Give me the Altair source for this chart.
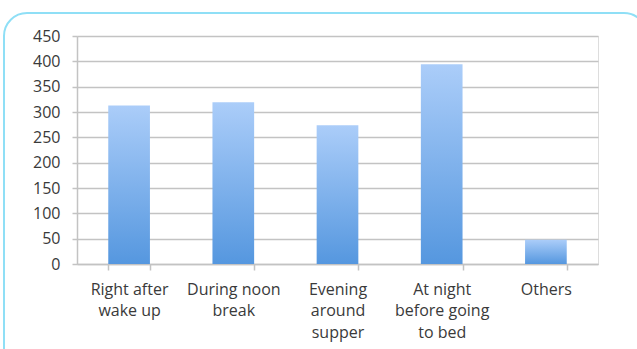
import altair as alt
import pandas as pd

# Survey: when people do the activity during the day
categories = [
    "Right after\nwake up",
    "During noon\nbreak",
    "Evening\naround\nsupper",
    "At night\nbefore going\nto bed",
    "Others",
]
counts = [313, 319, 274, 394, 48]
y_ticks = [0, 50, 100, 150, 200, 250, 300, 350, 400, 450]

df = pd.DataFrame({"when": categories, "count": counts})

FONT = "Open Sans"
GRID = "#c3c3c3"
TEXT = "#3a3a3a"

bar_fill = alt.Gradient(
    gradient="linear",
    stops=[
        alt.GradientStop(color="#abcdf9", offset=0),
        alt.GradientStop(color="#5597df", offset=1),
    ],
    x1=0, x2=0, y1=0, y2=1,
)

bars = alt.Chart(df).mark_bar(color=bar_fill).encode(
    x=alt.X(
        "when:N",
        sort=categories,
        title=None,
        scale=alt.Scale(paddingInner=0.6, paddingOuter=0.3),
        axis=alt.Axis(
            labelAngle=0,
            labelExpr="split(datum.label, '\\n')",
            labelFont=FONT,
            labelFontSize=16,
            labelColor=TEXT,
            labelLineHeight=21.5,
            labelPadding=11,
            labelBaseline="top",
            tickBand="extent",
            tickSize=6,
            tickColor=GRID,
            tickWidth=1.5,
            domainColor=GRID,
            domainWidth=1.5,
            grid=False,
        ),
    ),
    y=alt.Y(
        "count:Q",
        title=None,
        scale=alt.Scale(domain=[0, 450], nice=False),
        axis=alt.Axis(
            values=y_ticks,
            labelFont=FONT,
            labelFontSize=16,
            labelColor=TEXT,
            labelPadding=12,
            tickSize=5,
            tickColor=GRID,
            tickWidth=1.5,
            domainColor=GRID,
            domainWidth=1.5,
            gridColor=GRID,
            gridWidth=1.5,
        ),
    ),
)

# Rounded card outline around the chart
frame = alt.Chart(alt.Data(values=[{}])).mark_rect(
    fill="transparent",
    stroke="#8fdff6",
    strokeWidth=2,
    cornerRadius=23,
).encode(
    x=alt.value(-73),
    x2=alt.value(570),
    y=alt.value(-23),
    y2=alt.value(420),
)

chart = alt.layer(bars, frame).properties(
    width=521,
    height=228,
    autosize=alt.AutoSizeParams(type="none"),
    padding={"left": 77, "top": 36, "right": 39, "bottom": 85},
).configure_view(stroke=None).configure(background="white")

chart.save("out.html", embed_options={"renderer": "svg", "actions": False})
